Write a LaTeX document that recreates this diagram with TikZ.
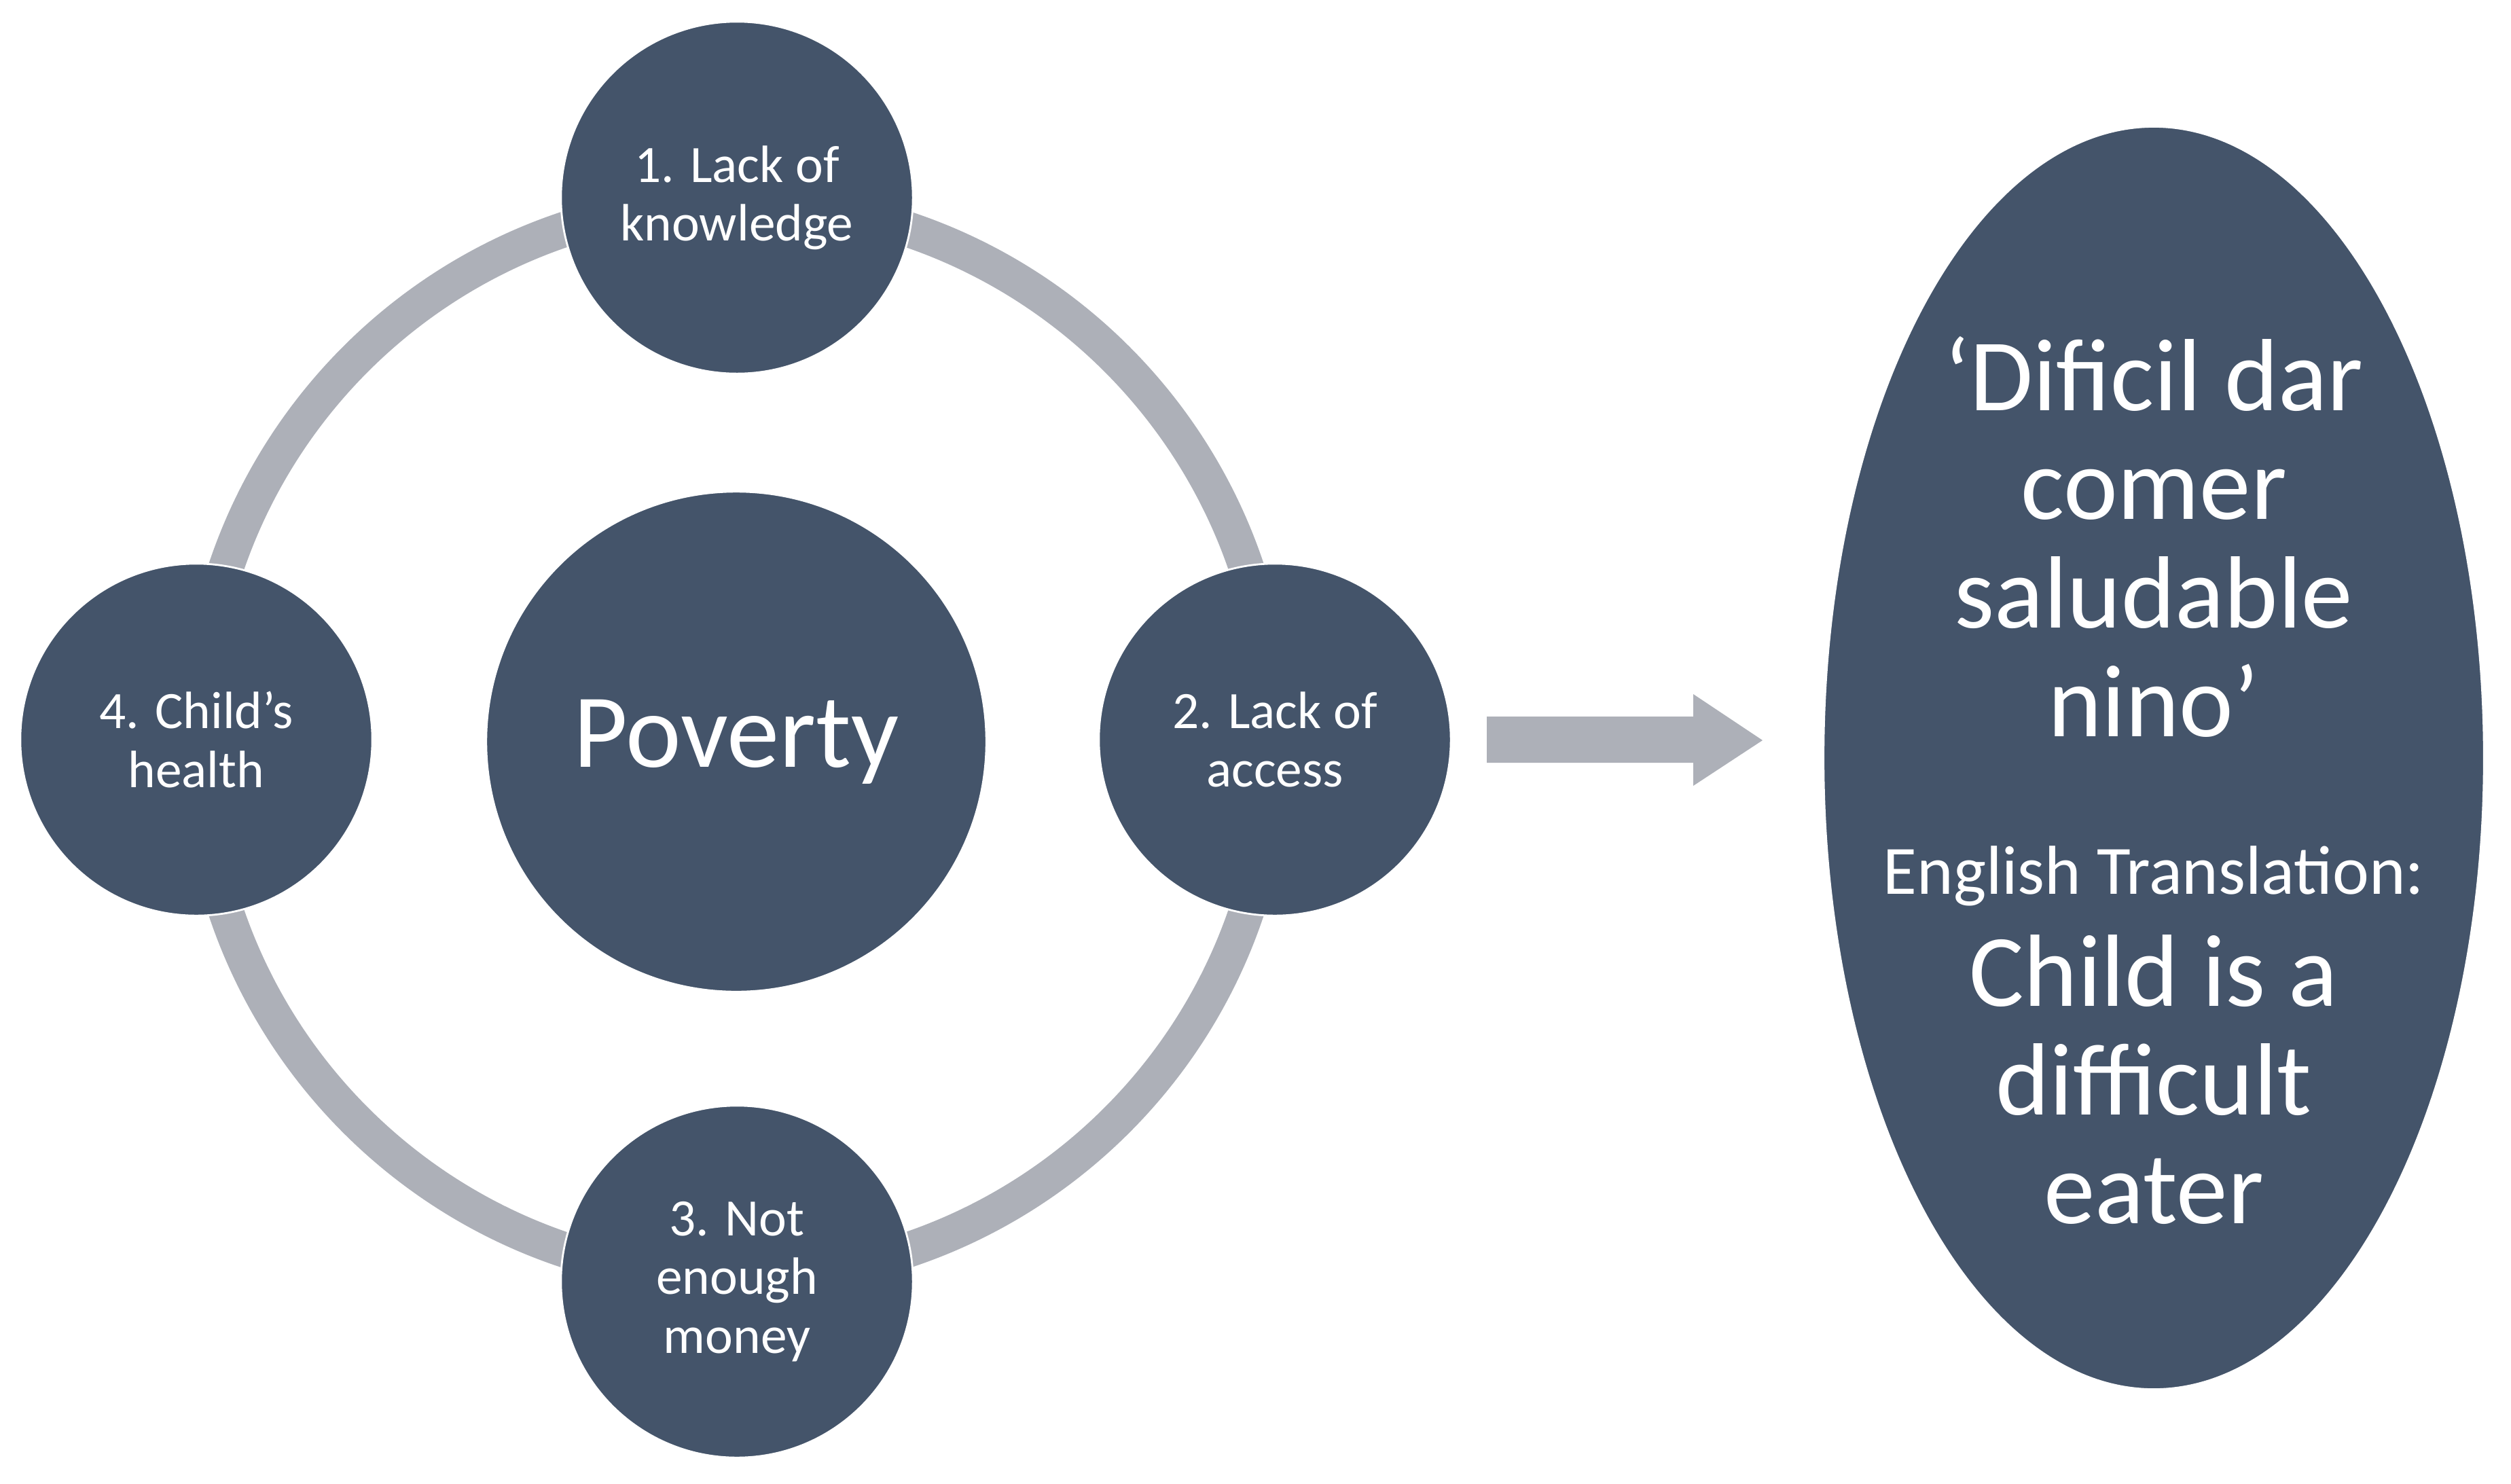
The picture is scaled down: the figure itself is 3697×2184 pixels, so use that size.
\documentclass[tikz,border=0pt]{standalone}
\usepackage{fontspec}
\setmainfont{Carlito}
\usetikzlibrary{shapes.geometric}
\definecolor{navy}{HTML}{44546A}
\definecolor{ringgray}{HTML}{ADB0B8}
\begin{document}
\begin{tikzpicture}[x=0.01cm,y=-0.01cm,
  bubble/.style={circle, fill=navy, draw=white, line width=0.8pt, minimum size=5.18cm,
    inner sep=0pt, text=white, align=center, font=\fontsize{22}{24.5}\selectfont},
  hub/.style={circle, fill=navy, draw=white, line width=0.8pt, minimum size=7.36cm,
    inner sep=0pt, text=white, font=\fontsize{44}{50}\selectfont},
  oval/.style={ellipse, fill=navy, draw=white, line width=0.8pt, minimum width=9.72cm,
    minimum height=18.58cm, inner sep=0pt},
  bigtext/.style={text=white, align=center, inner sep=0pt, font=\fontsize{43}{45.5}\selectfont},
  midtext/.style={text=white, align=center, inner sep=0pt, font=\fontsize{29}{34}\selectfont},
  ringline/.style={draw=ringgray, line width=0.52cm},
  blockarrow/.style={fill=ringgray}
]
\useasboundingbox (0,0) rectangle (3697,2184);
\coordinate (ctr) at (1084,1089);
\draw[ringline] (ctr) circle[radius=7.92cm];
\node[hub] (pov) at (1084,1092) {Poverty};
\node[bubble] (know) at (1085,291) {1. Lack of\\knowledge};
\node[bubble] (acc) at (1877,1089) {2. Lack of\\access};
\node[bubble] (money) at (1085,1887) {3. Not\\enough\\money};
\node[bubble] (health) at (289,1089) {4. Child’s\\health};
\fill[blockarrow] (2189,1055) -- (2493,1055) -- (2493,1022) -- (2595,1090)
  -- (2493,1157) -- (2493,1123) -- (2189,1123) -- cycle;
\node[oval] (ov) at (3171,1116) {};
\node[bigtext] (quote) at (3171,790) {‘Dificil dar\\comer\\saludable\\nino’};
\node[midtext] (eng) at (3171,1290) {English Translation:};
\node[bigtext] (trans) at (3171,1590) {Child is a\\difficult\\eater};
\end{tikzpicture}
\end{document}
